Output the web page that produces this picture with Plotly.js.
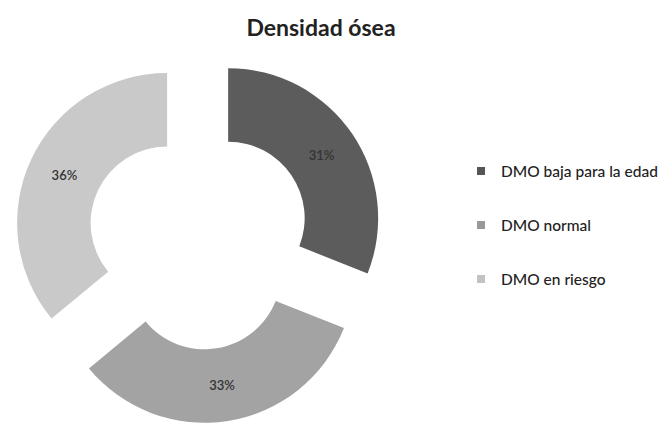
<!DOCTYPE html>
<html>
<head>
<meta charset="utf-8">
<script src="https://cdn.plot.ly/plotly-3.0.1.min.js"></script>
<style>html,body{margin:0;padding:0;background:#fff;}#chart{width:662px;height:424px;}</style>
</head>
<body>
<div id="chart"></div>
<script>
const categories = ["DMO baja para la edad", "DMO normal", "DMO en riesgo"];
const values = [31, 33, 36];
const sliceColors = ["#5c5c5c", "#a3a3a3", "#c9c9c9"];
const legendColors = ["#555555", "#999999", "#c2c2c2"];
const chartTitle = "Densidad ósea";

const W = 662, H = 424;
const fontFam = "Lato, 'Open Sans', sans-serif";

const trace = {
  type: "pie",
  labels: categories,
  values: values,
  sort: false,
  direction: "clockwise",
  rotation: 0,
  hole: 0.51,
  pull: [0.235, 0.235, 0.235],
  marker: { colors: sliceColors, line: { width: 0 } },
  textinfo: "percent",
  texttemplate: "%{percent:.0%}",
  textposition: "inside",
  insidetextorientation: "horizontal",
  insidetextfont: { family: fontFam, size: 13, weight: 600, color: "#333333" },
  domain: { x: [13.75 / W, 384.25 / W], y: [1 - 423.25 / H, 1 - 52.75 / H] },
  showlegend: false,
  hoverinfo: "label+percent"
};

// Custom legend (markers + labels) built from the category arrays
const legRows = [171, 225, 279];
const shapes = [];
const annotations = [];
categories.forEach((c, i) => {
  const cy = legRows[i];
  shapes.push({
    type: "rect", xref: "paper", yref: "paper",
    x0: 477 / W, x1: 485 / W, y0: 1 - (cy + 4) / H, y1: 1 - (cy - 4) / H,
    fillcolor: legendColors[i], line: { width: 0 }
  });
  annotations.push({
    xref: "paper", yref: "paper", x: 499 / W, y: 1 - cy / H,
    xanchor: "left", yanchor: "middle", showarrow: false,
    text: c, font: { family: fontFam, size: 15.5, weight: 500, color: "#222" }
  });
});

const layout = {
  width: W, height: H,
  margin: { l: 0, r: 0, t: 0, b: 0 },
  paper_bgcolor: "#ffffff",
  plot_bgcolor: "#ffffff",
  showlegend: false,
  title: {
    text: "<b>" + chartTitle + "</b>",
    x: 321 / W, xanchor: "center", xref: "paper",
    y: 1 - 28 / H, yanchor: "middle", yref: "container",
    font: { family: fontFam, size: 23, color: "#222" }
  },
  shapes: shapes,
  annotations: annotations
};

Plotly.newPlot("chart", [trace], layout, { displayModeBar: false, staticPlot: true });
</script>
</body>
</html>
